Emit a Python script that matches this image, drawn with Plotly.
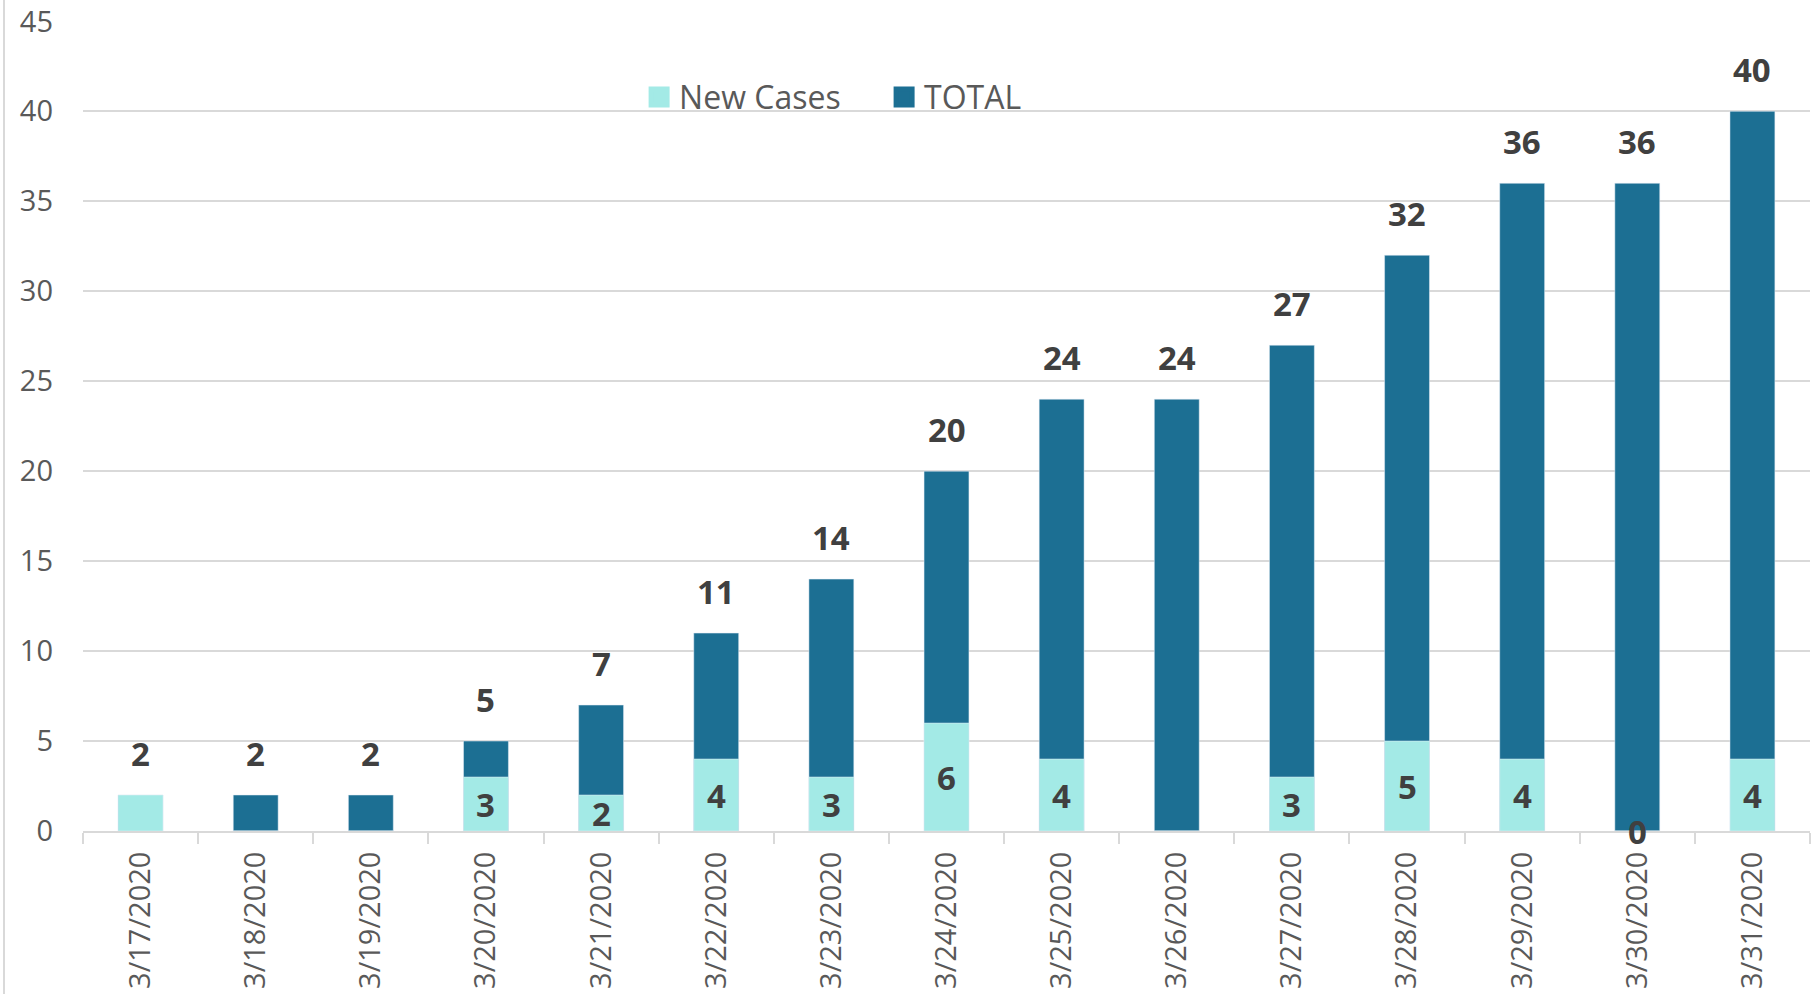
import plotly.graph_objects as go

dates = ["3/17/2020", "3/18/2020", "3/19/2020", "3/20/2020", "3/21/2020",
         "3/22/2020", "3/23/2020", "3/24/2020", "3/25/2020", "3/26/2020",
         "3/27/2020", "3/28/2020", "3/29/2020", "3/30/2020", "3/31/2020"]
new_cases = [2, 0, 0, 3, 2, 4, 3, 6, 4, 0, 3, 5, 4, 0, 4]
total = [2, 2, 2, 5, 7, 11, 14, 20, 24, 24, 27, 32, 36, 36, 40]
new_labels = ["", "", "", "3", "2", "4", "3", "6", "4", "", "3", "5", "4", "0", "4"]
total_labels = [str(v) for v in total]

LIGHT = "#A3EAE6"
DARK = "#1C6F93"
LABEL = "#404040"
TICK = "#595959"
GRID = "#D9D9D9"
FONT = "Open Sans"

fig = go.Figure()
fig.add_trace(go.Bar(x=dates, y=total, name="TOTAL", marker=dict(color=DARK),
                     showlegend=False, legendgroup="total", hoverinfo="x+y"))
fig.add_trace(go.Bar(x=dates, y=new_cases, name="New Cases", marker=dict(color=LIGHT),
                     showlegend=False, legendgroup="new", hoverinfo="x+y"))
# legend entries (larger square swatches, like the original)
for name, col, rank, grp in [("New Cases", LIGHT, 1, "new"), ("TOTAL", DARK, 2, "total")]:
    fig.add_trace(go.Scatter(x=[None], y=[None], mode="markers", name=name, legendrank=rank,
                             legendgroup=grp, showlegend=True,
                             marker=dict(symbol="square", size=16, color=col,
                                         line=dict(color=col, width=5))))

annotations = []
for d, t, lab in zip(dates, total, total_labels):
    annotations.append(dict(x=d, y=t, text=lab, showarrow=False, yanchor="bottom",
                            yshift=17, font=dict(family=FONT, size=33, color=LABEL, weight="bold")))
for d, n, lab in zip(dates, new_cases, new_labels):
    if lab:
        annotations.append(dict(x=d, y=n / 2, text=lab, showarrow=False, yanchor="middle",
                                font=dict(family=FONT, size=33, color=LABEL, weight="bold")))

W, H = 1816, 994
L, R, T, B = 83, 6, 21, 163
fig.update_layout(
    width=W, height=H,
    margin=dict(l=L, r=R, t=T, b=B, autoexpand=False),
    paper_bgcolor="white", plot_bgcolor="white",
    barmode="overlay", bargap=0.61,
    font=dict(family=FONT, size=29, color=TICK),
    showlegend=True,
    legend=dict(orientation="h", x=0.322, y=0.906, xanchor="left", yanchor="middle",
                font=dict(family=FONT, size=32, color=TICK), bgcolor="rgba(0,0,0,0)",
                itemwidth=30, entrywidth=200, traceorder="normal"),
    annotations=annotations,
    shapes=[dict(type="line", xref="paper", yref="paper",
                 x0=-(L - 4) / (W - L - R), x1=-(L - 4) / (W - L - R),
                 y0=-B / (H - T - B), y1=1 + T / (H - T - B), line=dict(color=GRID, width=2))],
)
fig.update_xaxes(type="category", showgrid=False, showline=True, linecolor=GRID, linewidth=2,
                 ticks="outside", tickson="boundaries", ticklen=11, tickcolor=GRID, tickwidth=2,
                 tickangle=-90, automargin=False, ticklabelstandoff=7,
                 tickfont=dict(family=FONT, size=29, color=TICK))
fig.update_yaxes(range=[0, 45.02], dtick=5, showgrid=True, gridcolor=GRID, gridwidth=2,
                 zeroline=False, showline=False, ticks="", automargin=False,
                 ticklabelstandoff=29, tickfont=dict(family=FONT, size=29, color=TICK))

fig.write_html("out.html", config={"displayModeBar": False},
               post_script="document.body.style.margin='0px';")
